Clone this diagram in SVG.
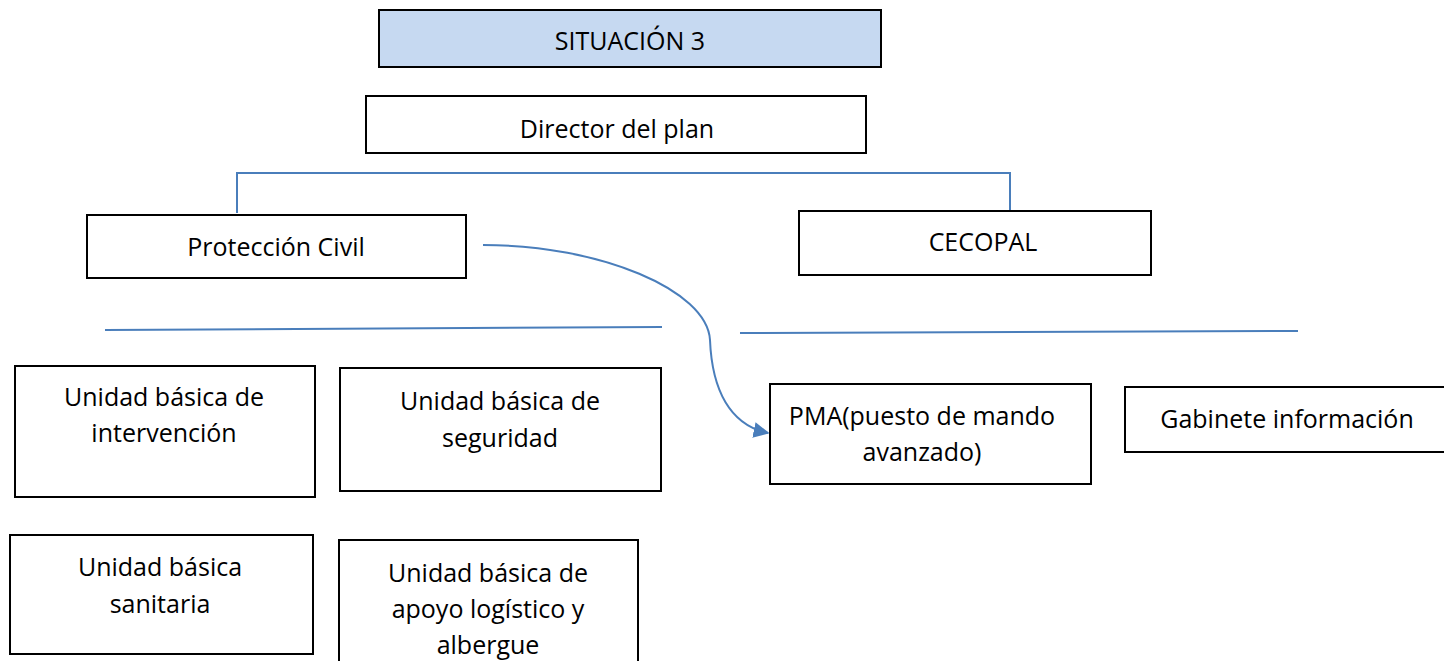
<svg xmlns="http://www.w3.org/2000/svg" width="1444" height="661" viewBox="0 0 1444 661">
<style>
.box{fill:#fff;stroke:#000;stroke-width:2}
.hd{fill:#c6d9f1;stroke:#000;stroke-width:2}
text{font-family:"Open Sans","Liberation Sans",sans-serif;font-size:25px;fill:#000;text-anchor:middle;dominant-baseline:central}
.ln{fill:none;stroke:#4a7ebb;stroke-width:2}
</style>
<defs>
<marker id="arr" viewBox="0 0 10 10" refX="9" refY="5" markerWidth="8" markerHeight="8" orient="auto" markerUnits="strokeWidth">
<path d="M0,0 L10,5 L0,10 z" fill="#4a7ebb"/>
</marker>
</defs>
<rect width="1444" height="661" fill="#fff"/>
<g id="connectors">
<path class="ln" d="M237,213 V173 H1010 V213"/>
<path class="ln" d="M105,330 L662,327"/>
<path class="ln" d="M740,333 L1298,331"/>
<path class="ln" d="M483,245 C600,245 707,290 710,340 C712,390 730,425 768,433" marker-end="url(#arr)"/>
</g>
<g id="situacion"><rect class="hd" x="379" y="10" width="502" height="57"/><text x="630" y="40">SITUACIÓN 3</text></g>
<g id="director"><rect class="box" x="366" y="96" width="500" height="57"/><text x="617" y="128">Director del plan</text></g>
<g id="proteccion"><rect class="box" x="87" y="215" width="379" height="63"/><text x="276" y="246">Protección Civil</text></g>
<g id="cecopal"><rect class="box" x="799" y="211" width="352" height="64"/><text x="983" y="241">CECOPAL</text></g>
<g id="intervencion"><rect class="box" x="15" y="366" width="300" height="131"/><text x="164" y="396">Unidad básica de</text><text x="164" y="432">intervención</text></g>
<g id="seguridad"><rect class="box" x="340" y="368" width="321" height="123"/><text x="500" y="400">Unidad básica de</text><text x="500" y="437">seguridad</text></g>
<g id="sanitaria"><rect class="box" x="10" y="535" width="303" height="119"/><text x="160" y="566">Unidad básica</text><text x="160" y="603">sanitaria</text></g>
<g id="apoyo"><rect class="box" x="339" y="540" width="299" height="125"/><text x="488" y="572">Unidad básica de</text><text x="488" y="608">apoyo logístico y</text><text x="488" y="644">albergue</text></g>
<g id="pma"><rect class="box" x="770" y="384" width="321" height="100"/><text x="922" y="415">PMA(puesto de mando</text><text x="922" y="451">avanzado)</text></g>
<g id="gabinete"><rect class="box" x="1125" y="387" width="325" height="65"/><text x="1287" y="418">Gabinete información</text></g>
</svg>
